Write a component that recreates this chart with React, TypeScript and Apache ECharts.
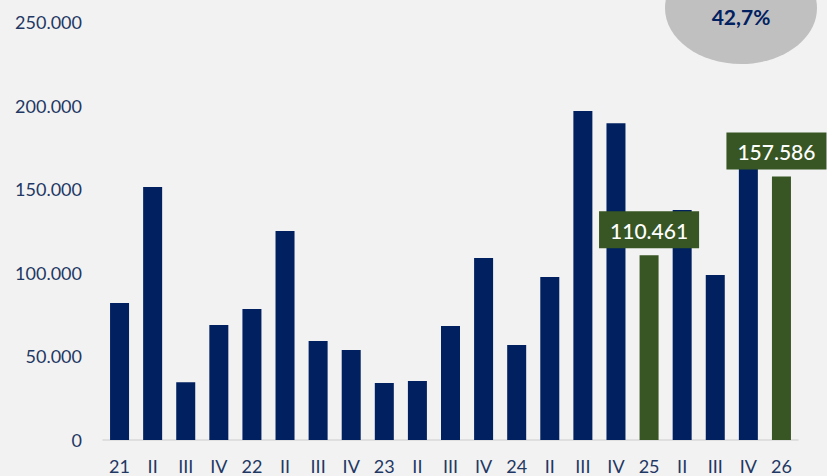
import React, { useEffect, useRef } from "react";
import * as echarts from "echarts";

const categories = ["21", "II", "III", "IV", "22", "II", "III", "IV", "23", "II", "III", "IV", "24", "II", "III", "IV", "25", "II", "III", "IV", "26"];
const values = [81900, 151300, 34500, 68800, 78300, 125000, 59200, 53800, 34100, 35300, 68200, 108800, 56800, 97500, 196800, 189400, 110461, 137600, 98700, 165000, 157586];
const highlighted = [16, 20];
const yTicks = [0, 50000, 100000, 150000, 200000, 250000];
const badgeText = "42,7%";

const NAVY = "#002060";
const GREEN = "#375623";
const TEXT = "#1f3864";
const FONT = "Lato, 'Open Sans', sans-serif";

function fmt(v: number): string {
  return String(Math.round(v)).replace(/\B(?=(\d{3})+(?!\d))/g, ".");
}

export default function App() {
  const ref = useRef<HTMLDivElement>(null);
  useEffect(() => {
    if (!ref.current) return;
    const chart = echarts.init(ref.current, undefined, { renderer: "svg" });
    chart.setOption({
      animation: false,
      backgroundColor: "#f2f2f2",
      grid: { left: 103, right: 29, top: 22, bottom: 36, containLabel: false },
      xAxis: {
        type: "category",
        data: categories,
        axisLine: { lineStyle: { color: "#d9d9d9", width: 1.5 } },
        axisTick: { show: false },
        axisLabel: { color: TEXT, fontFamily: FONT, fontSize: 18, lineHeight: 18, margin: 17, interval: 0 },
      },
      yAxis: {
        type: "value",
        min: yTicks[0],
        max: yTicks[yTicks.length - 1],
        interval: 50000,
        axisLine: { show: false },
        axisTick: { show: false },
        splitLine: { show: false },
        axisLabel: { color: TEXT, fontFamily: FONT, fontSize: 18, margin: 21, formatter: (v: number) => fmt(v) },
      },
      series: [
        {
          type: "bar",
          barWidth: 19,
          z: 2,
          data: values.map((v, i) => {
            const hl = highlighted.includes(i);
            return {
              value: v,
              itemStyle: { color: hl ? GREEN : NAVY },
              label: hl
                ? {
                    show: true,
                    position: "top",
                    distance: 7,
                    formatter: () => fmt(v),
                    color: "#ffffff",
                    fontFamily: FONT,
                    fontSize: 21,
                    lineHeight: 26,
                    fontWeight: 500,
                    backgroundColor: GREEN,
                    padding: [6, 11, 5, 11],
                    offset: i === 20 ? [-5, 0] : [0, 0],
                  }
                : { show: false },
            };
          }),
        },
      ],
      graphic: [
        {
          type: "ellipse",
          shape: { cx: 741, cy: 8, rx: 76, ry: 56 },
          style: { fill: "#c0c0c0" },
          z: 10,
        },
        {
          type: "text",
          x: 741,
          y: 16,
          style: {
            text: badgeText,
            fill: "#002060",
            font: `bold 21px ${FONT}`,
            textAlign: "center",
            textVerticalAlign: "middle",
          },
          z: 11,
        },
      ],
    });
    return () => chart.dispose();
  }, []);
  return (
    <div
      ref={ref}
      style={{ position: "fixed", left: 0, top: 0, width: 827, height: 476, background: "#f2f2f2" }}
    />
  );
}
